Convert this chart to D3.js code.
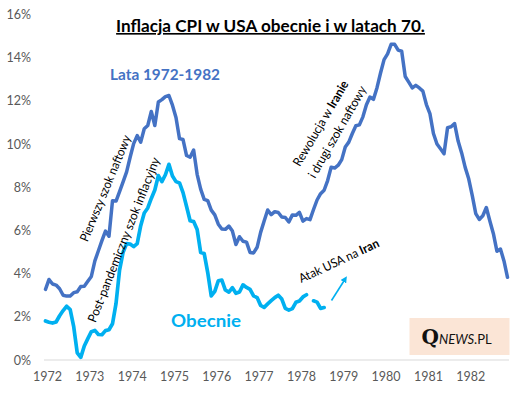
<!DOCTYPE html>
<html><head><meta charset="utf-8">
<script src="https://cdn.jsdelivr.net/npm/d3@7"></script>
<style>
body{margin:0;background:#fff}
svg{display:block}
text{font-family:Lato,"Open Sans",sans-serif}
</style>
</head><body>
<svg id="c" width="526" height="394"></svg>
<script>
// ---- data ----
const yearLabels = ["1972","1973","1974","1975","1976","1977","1978","1979","1980","1981","1982"];
const yTicks = [0, 2, 4, 6, 8, 10, 12, 14, 16];
// CPI YoY (%) monthly, Jan 1972 - Dec 1982
const lata70 = [
  3.27, 3.73, 3.52, 3.47, 3.30, 3.00, 2.96, 2.96, 3.12, 3.16, 3.40, 3.42,
  3.65, 3.87, 4.59, 5.06, 5.53, 5.97, 5.73, 7.38, 7.36, 7.80, 8.25, 8.71,
  9.39, 10.02, 10.39, 10.09, 10.71, 10.86, 11.51, 10.86, 11.95, 12.06, 12.20, 12.25,
  11.80, 11.23, 10.25, 10.21, 9.47, 9.39, 9.72, 8.60, 7.91, 7.44, 7.38, 6.94,
  6.72, 6.29, 6.07, 6.05, 6.20, 5.97, 5.35, 5.71, 5.50, 5.46, 4.98, 4.96,
  5.22, 5.91, 6.44, 6.95, 6.73, 6.87, 6.83, 6.62, 6.60, 6.39, 6.72, 6.70,
  6.84, 6.43, 6.55, 6.50, 6.97, 7.41, 7.70, 7.86, 8.31, 8.93, 8.89, 9.02,
  9.28, 9.86, 10.09, 10.49, 10.85, 10.89, 11.26, 11.82, 12.18, 12.07, 12.61, 13.29,
  13.91, 14.18, 14.62, 14.62, 14.35, 14.30, 13.13, 12.87, 12.60, 12.72, 12.60, 12.45,
  11.83, 11.41, 10.49, 10.00, 9.78, 9.55, 10.76, 10.80, 10.95, 10.14, 9.59, 8.92,
  8.39, 7.62, 6.78, 6.51, 6.68, 7.06, 6.44, 5.85, 5.04, 5.14, 4.59, 3.83
];
// CPI YoY (%) monthly, Jul 2019 - Feb 2026 (Oct 2025 missing)
const obecnie = [
  1.81, 1.75, 1.71, 1.76, 2.05, 2.29,
  2.49, 2.33, 1.54, 0.33, 0.12, 0.65, 0.99, 1.31, 1.37, 1.18, 1.17, 1.36,
  1.40, 1.68, 2.62, 4.16, 4.99, 5.39, 5.37, 5.25, 5.39, 6.22, 6.81, 7.04,
  7.48, 7.87, 8.54, 8.26, 8.58, 9.06, 8.52, 8.26, 8.20, 7.75, 7.11, 6.45,
  6.41, 6.04, 4.98, 4.93, 4.05, 2.97, 3.18, 3.67, 3.70, 3.24, 3.14, 3.35,
  3.09, 3.15, 3.48, 3.36, 3.27, 2.97, 2.89, 2.53, 2.44, 2.60, 2.75, 2.89,
  3.00, 2.82, 2.39, 2.31, 2.38, 2.67, 2.73, 2.92, 3.02, null, 2.74, 2.68,
  2.39, 2.43
];

// ---- chart ----
const svg = d3.select("#c");
const x = d3.scaleLinear().domain([0, lata70.length - 1]).range([45.5, 507.5]);
const y = d3.scaleLinear().domain([0, 16]).range([360, 14.5]);

// place text at (cx,cy) rotated by ang, squeezed horizontally to a target width
function placeFit(t, cx, cy, ang, target) {
  const w = t.node().getComputedTextLength();
  const sx = target / w;
  t.attr("transform", `translate(${cx},${cy}) rotate(${ang}) scale(${sx.toFixed(4)},1)`);
  return t;
}

// y axis
const yAxis = svg.append("g").attr("transform", "translate(44,0)")
  .call(d3.axisLeft(y).tickValues(yTicks).tickFormat(d => d + "%").tickSize(0).tickPadding(13));
yAxis.select(".domain").remove();
yAxis.selectAll("text").attr("fill", "#595959").attr("font-size", 12.5)
  .style("font-family", "Lato, sans-serif");

// x axis
const xAxis = svg.append("g").attr("transform", "translate(0,360)")
  .call(d3.axisBottom(x).tickValues(yearLabels.map((d, i) => i * 12))
    .tickFormat((d, i) => yearLabels[i]).tickSize(0).tickPadding(12));
xAxis.select(".domain").attr("stroke", "#d9d9d9").attr("stroke-width", 1.2)
  .attr("d", `M44,0H509`);
xAxis.selectAll("text").attr("fill", "#595959").attr("font-size", 12.5)
  .attr("dx", 1.5).style("font-family", "Lato, sans-serif");

// lines
const line = d3.line().defined(d => d != null).x((d, i) => x(i)).y(d => y(d));
svg.append("path").datum(lata70).attr("d", line)
  .attr("fill", "none").attr("stroke", "#4472C4").attr("stroke-width", 3.5)
  .attr("stroke-linejoin", "round").attr("stroke-linecap", "round");
svg.append("path").datum(obecnie).attr("d", line)
  .attr("fill", "none").attr("stroke", "#00B0F0").attr("stroke-width", 3.7)
  .attr("stroke-linejoin", "round").attr("stroke-linecap", "round");

// title
const title = svg.append("text").attr("text-anchor", "middle")
  .attr("font-size", 16.5).attr("font-weight", "bold").attr("fill", "#000")
  .style("text-decoration", "underline")
  .text("Inflacja CPI w USA obecnie i w latach 70.");
placeFit(title, 270.5, 32, 0, 309);

// series labels
placeFit(svg.append("text").attr("text-anchor", "middle").attr("font-size", 16)
  .attr("font-weight", "bold").attr("fill", "#4472C4").text("Lata 1972-1982"), 165, 80, 0, 110);
placeFit(svg.append("text").attr("text-anchor", "middle").attr("font-size", 17)
  .attr("font-weight", "bold").attr("fill", "#00B0F0").text("Obecnie"), 206, 327, 0, 70);

// rotated annotations
function rot(cx, cy, ang, width, parts) {
  const t = svg.append("text").attr("text-anchor", "middle").attr("dominant-baseline", "central")
    .attr("font-size", 12.5).attr("fill", "#000");
  parts.forEach(p => t.append("tspan").attr("font-weight", p[1] ? "bold" : null).text(p[0]));
  return placeFit(t, cx, cy, ang, width);
}
rot(104.5, 188, -67.5, 114, [["Pierwszy szok naftowy", false]]);
rot(123, 239.5, -68.5, 176, [["Post-pandemiczny szok inflacyjny", false]]);
rot(320, 123, -59.5, 97, [["Rewolucja w ", false], ["Iranie", true]]);
rot(336.5, 131.5, -60, 104, [["i drugi szok naftowy", false]]);
rot(338.5, 260, -25, 87, [["Atak USA na ", false], ["Iran", true]]);

// arrow
const defs = svg.append("defs");
defs.append("marker").attr("id", "ah").attr("viewBox", "0 0 10 10").attr("refX", 6).attr("refY", 5)
  .attr("markerWidth", 4).attr("markerHeight", 4).attr("orient", "auto")
  .append("path").attr("d", "M0,0L10,5L0,10Z").attr("fill", "#00B0F0");
svg.append("line").attr("x1", 331.5).attr("y1", 300.5).attr("x2", 345.5).attr("y2", 278.5)
  .attr("stroke", "#00B0F0").attr("stroke-width", 1.6).attr("marker-end", "url(#ah)");

// logo
const logo = svg.append("g");
logo.append("rect").attr("x", 409.5).attr("y", 318).attr("width", 100).attr("height", 37)
  .attr("fill", "#FBE5D6");
const lt = logo.append("text").attr("x", 421.5).attr("y", 343.5).attr("fill", "#111");
lt.append("tspan").text("Q").attr("font-size", 20).attr("font-weight", "bold")
  .style("font-family", "'DejaVu Serif', 'Liberation Serif', serif");
lt.append("tspan").text("NEWS").attr("font-size", 13).attr("font-style", "italic")
  .style("font-family", "Lato, sans-serif");
lt.append("tspan").text(".PL").attr("font-size", 13).style("font-family", "Lato, sans-serif");
</script>
</body></html>
